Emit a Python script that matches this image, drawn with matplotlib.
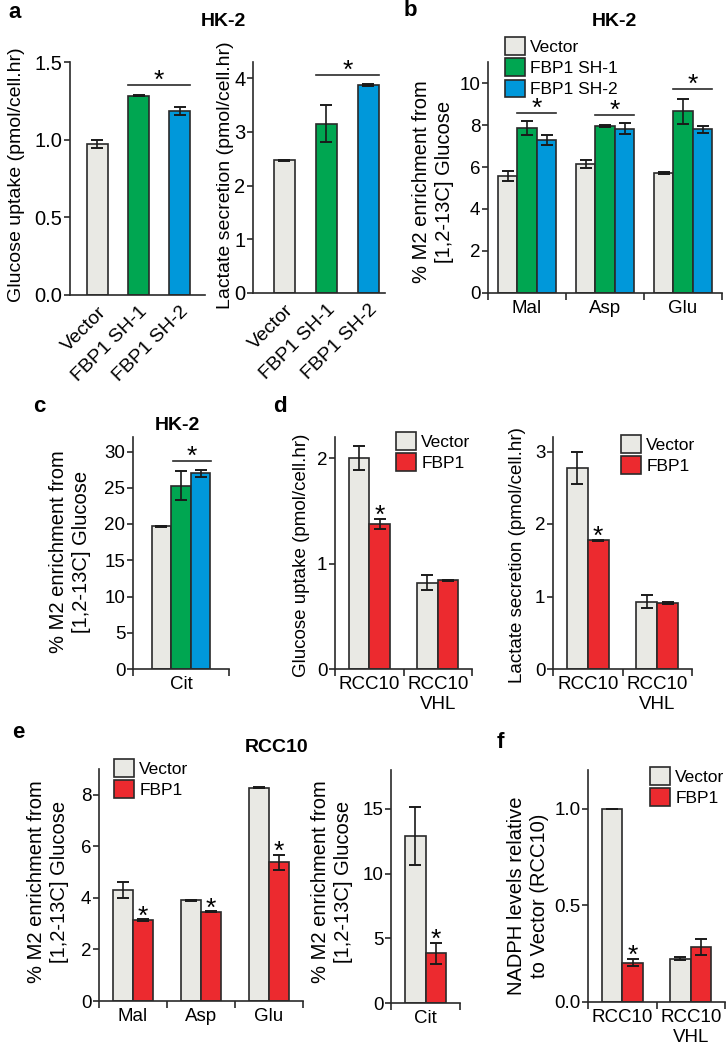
import matplotlib
matplotlib.use('Agg')
import matplotlib.pyplot as plt
from matplotlib.patches import Patch

plt.rcParams['font.family'] = ['Liberation Sans', 'DejaVu Sans']

# ---- data ----
cats_hk2 = ['Vector', 'FBP1 SH-1', 'FBP1 SH-2']
glc_hk2 = [0.97, 1.283, 1.185]
glc_hk2_err = [0.025, 0.004, 0.025]
lac_hk2 = [2.47, 3.155, 3.87]
lac_hk2_err = [0.012, 0.34, 0.012]

metabs = ['Mal', 'Asp', 'Glu']
m2_vec_hk2 = [5.56, 6.15, 5.70]
m2_vec_hk2_err = [0.24, 0.20, 0.05]
m2_sh1_hk2 = [7.86, 7.95, 8.66]
m2_sh1_hk2_err = [0.32, 0.04, 0.60]
m2_sh2_hk2 = [7.28, 7.83, 7.79]
m2_sh2_hk2_err = [0.25, 0.25, 0.16]

cit_hk2 = [19.7, 25.3, 27.0]
cit_hk2_err = [0.05, 2.05, 0.5]

rcc_lines = ['RCC10', 'RCC10\nVHL']
glc_rcc_vec = [2.0, 0.82]
glc_rcc_vec_err = [0.11, 0.07]
glc_rcc_fbp = [1.377, 0.84]
glc_rcc_fbp_err = [0.05, 0.005]
lac_rcc_vec = [2.77, 0.93]
lac_rcc_vec_err = [0.22, 0.09]
lac_rcc_fbp = [1.775, 0.91]
lac_rcc_fbp_err = [0.01, 0.01]

m2_vec_rcc = [4.30, 3.90, 8.28]
m2_vec_rcc_err = [0.30, 0.02, 0.03]
m2_fbp_rcc = [3.13, 3.46, 5.38]
m2_fbp_rcc_err = [0.04, 0.02, 0.30]
cit_rcc_vec = [12.88]
cit_rcc_vec_err = [2.24]
cit_rcc_fbp = [3.83]
cit_rcc_fbp_err = [0.84]

nadph_vec = [1.0, 0.225]
nadph_vec_err = [0.0, 0.008]
nadph_fbp = [0.204, 0.284]
nadph_fbp_err = [0.02, 0.04]

# ---- style ----
GREY = '#E9E9E4'
GREEN = '#00A651'
BLUE = '#0098DA'
RED = '#EC2A2F'
EDGE = '#2a2a2a'
W, H = 726, 1050
TICK_FS = 13.5
LAB_FS = 14.5

fig = plt.figure(figsize=(W / 100, H / 100), dpi=100)


def px_axes(l, t, r, b):
    ax = fig.add_axes([l / W, 1 - b / H, (r - l) / W, (b - t) / H])
    for s in ['top', 'right']:
        ax.spines[s].set_visible(False)
    for s in ['left', 'bottom']:
        ax.spines[s].set_linewidth(1.2)
        ax.spines[s].set_color(EDGE)
    ax.tick_params(which='both', direction='out', length=4, width=1.2,
                   labelsize=TICK_FS, color=EDGE, pad=1.5)
    return ax


def bars(ax, x, vals, errs, color, width):
    return ax.bar(x, vals, width, color=color, edgecolor=EDGE, linewidth=1.2,
                  yerr=errs, capsize=4,
                  error_kw=dict(elinewidth=1.2, capthick=1.4, ecolor='#1a1a1a'),
                  zorder=2)


def star(ax, x, y, dy=-3):
    ax.annotate('*', (x, y), xytext=(0, dy), textcoords='offset points',
                ha='center', va='baseline', fontsize=19)


def sig(ax, x0, x1, y):
    ax.plot([x0, x1], [y, y], color=EDGE, lw=1.2, clip_on=False)
    star(ax, (x0 + x1) / 2, y, dy=-2)


def ylab(text, x, y, fs=LAB_FS):
    fig.text(x / W, 1 - y / H, text, rotation=90, ha='center', va='center',
             fontsize=fs, linespacing=1.25)


def ftext(text, x, y, fs=16, bold=True, ha='left'):
    fig.text(x / W, 1 - y / H, text, ha=ha, va='center', fontsize=fs,
             fontweight='bold' if bold else 'normal')


def legend(ax, colors, labels, x, y, fs=12.5):
    handles = [Patch(facecolor=c, edgecolor=EDGE, linewidth=1.2) for c in colors]
    ax.legend(handles, labels, loc='upper left',
              bbox_to_anchor=(x / W, 1 - y / H), bbox_transform=fig.transFigure,
              frameon=False, fontsize=fs, handlelength=1.15, handleheight=1.2,
              handletextpad=0.3, labelspacing=0.2, borderpad=0, borderaxespad=0)


def group_axis(ax, labels):
    n = len(labels)
    ax.set_xlim(-0.5, n - 0.5)
    ax.set_xticks([i - 0.5 for i in range(n + 1)])
    ax.set_xticklabels([])
    ax.set_xticks(range(n), minor=True)
    ax.set_xticklabels(labels, minor=True, fontsize=TICK_FS)
    ax.tick_params(axis='x', which='minor', length=0, pad=5)
    ax.tick_params(axis='x', which='major', length=5)


# ---- panel a ----
ftext('a', 8, 13)
ftext('HK-2', 223, 22, fs=14, ha='center')
hk2_colors = [GREY, GREEN, BLUE]

ax = px_axes(70, 62, 205, 295)
bars(ax, range(3), glc_hk2, glc_hk2_err, hk2_colors, 0.5)
ax.set_xlim(-0.67, 2.62)
ax.set_ylim(0, 1.5)
ax.set_yticks([0, 0.5, 1.0, 1.5])
ax.set_yticklabels(['0.0', '0.5', '1.0', '1.5'], fontsize=14.5)
ax.set_xticks(range(3))
ax.set_xticklabels(cats_hk2, rotation=45, ha='right', rotation_mode='anchor',
                   fontsize=14)
ax.tick_params(axis='x', length=0, pad=6)
sig(ax, 0.75, 2.25, 1.35)
ylab('Glucose uptake (pmol/cell.hr)', 17, 175, fs=14)

ax = px_axes(253, 62, 385, 293)
bars(ax, range(3), lac_hk2, lac_hk2_err, hk2_colors, 0.5)
ax.set_xlim(-0.75, 2.4)
ax.set_ylim(0, 4.3)
ax.set_yticks([0, 1, 2, 3, 4])
ax.tick_params(axis='y', labelsize=14.5)
ax.set_xticks(range(3))
ax.set_xticklabels(cats_hk2, rotation=45, ha='right', rotation_mode='anchor',
                   fontsize=14)
ax.tick_params(axis='x', length=0, pad=6)
sig(ax, 0.75, 2.25, 4.06)
ylab('Lactate secretion (pmol/cell.hr)', 225, 175, fs=14)

# ---- panel b ----
ftext('b', 404, 11)
ftext('HK-2', 614, 22, fs=14, ha='center')
ax = px_axes(488, 62, 722, 293)
xs = range(3)
bars(ax, [i - 0.25 for i in xs], m2_vec_hk2, m2_vec_hk2_err, GREY, 0.25)
bars(ax, list(xs), m2_sh1_hk2, m2_sh1_hk2_err, GREEN, 0.25)
bars(ax, [i + 0.25 for i in xs], m2_sh2_hk2, m2_sh2_hk2_err, BLUE, 0.25)
group_axis(ax, metabs)
ax.set_ylim(0, 11)
ax.set_yticks([0, 2, 4, 6, 8, 10])
for i, y in zip(xs, [8.57, 8.49, 9.7]):
    sig(ax, i - 0.125, i + 0.375, y)
legend(ax, [GREY, GREEN, BLUE], cats_hk2, 505, 37)
ylab('% M2 enrichment from\n[1,2-13C] Glucose', 433, 182)

# ---- panel c ----
ftext('c', 33, 406)
ftext('HK-2', 177, 425, fs=14, ha='center')
ax = px_axes(133, 437, 229, 669)
bars(ax, [-1, 0, 1], cit_hk2, cit_hk2_err, hk2_colors, 1.0)
ax.set_xlim(-2.46, 2.46)
ax.set_xticks([-2.46, 2.46])
ax.set_xticklabels([])
ax.set_xticks([0], minor=True)
ax.set_xticklabels(['Cit'], minor=True, fontsize=TICK_FS)
ax.tick_params(axis='x', which='minor', length=0, pad=5)
ax.tick_params(axis='x', which='major', length=5)
ax.set_ylim(0, 32)
ax.set_yticks([0, 5, 10, 15, 20, 25, 30])
sig(ax, -0.4, 1.55, 28.65)
ylab('% M2 enrichment from\n[1,2-13C] Glucose', 70, 552)

# ---- panel d ----
ftext('d', 273, 406)
ax = px_axes(335, 437, 472, 669)
bars(ax, [-0.15, 0.85], glc_rcc_vec, glc_rcc_vec_err, GREY, 0.3)
bars(ax, [0.15, 1.15], glc_rcc_fbp, glc_rcc_fbp_err, RED, 0.3)
group_axis(ax, rcc_lines)
ax.set_ylim(0, 2.2)
ax.set_yticks([0, 1, 2])
star(ax, 0.15, glc_rcc_fbp[0] + glc_rcc_fbp_err[0])
legend(ax, [GREY, RED], ['Vector', 'FBP1'], 396, 432)
ylab('Glucose uptake (pmol/cell.hr)', 302, 555, fs=13.5)

ax = px_axes(553, 437, 692, 669)
bars(ax, [-0.15, 0.85], lac_rcc_vec, lac_rcc_vec_err, GREY, 0.3)
bars(ax, [0.15, 1.15], lac_rcc_fbp, lac_rcc_fbp_err, RED, 0.3)
group_axis(ax, rcc_lines)
ax.set_ylim(0, 3.2)
ax.set_yticks([0, 1, 2, 3])
star(ax, 0.15, lac_rcc_fbp[0] + lac_rcc_fbp_err[0])
legend(ax, [GREY, RED], ['Vector', 'FBP1'], 621, 435)
ylab('Lactate secretion (pmol/cell.hr)', 518, 555, fs=13.5)

# ---- panel e ----
ftext('e', 12, 732)
ftext('RCC10', 277, 747, fs=14, ha='center')
ax = px_axes(99, 769, 303, 1001)
bars(ax, [i - 0.15 for i in range(3)], m2_vec_rcc, m2_vec_rcc_err, GREY, 0.3)
bars(ax, [i + 0.15 for i in range(3)], m2_fbp_rcc, m2_fbp_rcc_err, RED, 0.3)
group_axis(ax, metabs)
ax.set_ylim(0, 9)
ax.set_yticks([0, 2, 4, 6, 8])
for i in range(3):
    star(ax, i + 0.15, m2_fbp_rcc[i] + m2_fbp_rcc_err[i])
legend(ax, [GREY, RED], ['Vector', 'FBP1'], 114, 759)
ylab('% M2 enrichment from\n[1,2-13C] Glucose', 48, 882)

ax = px_axes(391, 770, 460, 1003)
bars(ax, [-0.15], cit_rcc_vec, cit_rcc_vec_err, GREY, 0.3)
bars(ax, [0.15], cit_rcc_fbp, cit_rcc_fbp_err, RED, 0.3)
group_axis(ax, ['Cit'])
ax.set_ylim(0, 18)
ax.set_yticks([0, 5, 10, 15])
star(ax, 0.15, cit_rcc_fbp[0] + cit_rcc_fbp_err[0])
ylab('% M2 enrichment from\n[1,2-13C] Glucose', 332, 882)

# ---- panel f ----
ftext('f', 497, 742)
ax = px_axes(588, 770, 725, 1002)
bars(ax, [-0.15, 0.85], nadph_vec, nadph_vec_err, GREY, 0.3)
bars(ax, [0.15, 1.15], nadph_fbp, nadph_fbp_err, RED, 0.3)
group_axis(ax, rcc_lines)
ax.set_ylim(0, 1.2)
ax.set_yticks([0, 0.5, 1.0])
ax.set_yticklabels(['0.0', '0.5', '1.0'])
star(ax, 0.15, nadph_fbp[0] + nadph_fbp_err[0])
legend(ax, [GREY, RED], ['Vector', 'FBP1'], 650, 767)
ylab('NADPH levels relative\nto Vector (RCC10)', 528, 896)

fig.savefig('out.png', dpi=100)
